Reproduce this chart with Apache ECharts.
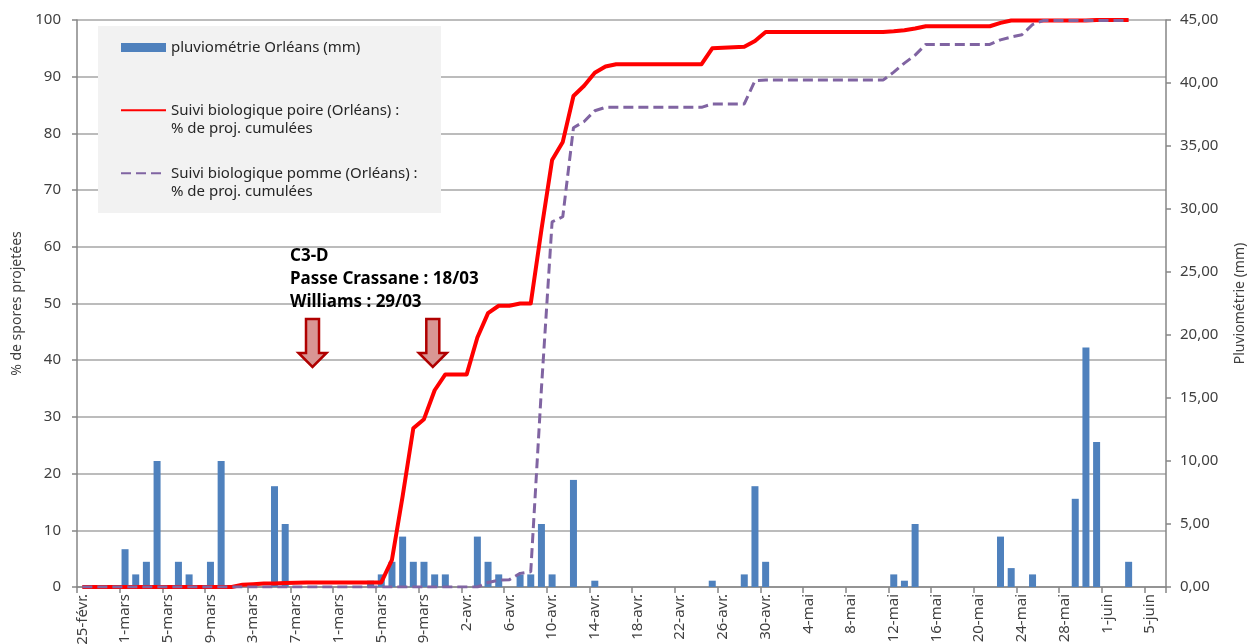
<!DOCTYPE html>
<html>
<head>
<meta charset="utf-8">
<script src="https://cdn.jsdelivr.net/npm/echarts@6.0.0/dist/echarts.min.js"></script>
<style>
html,body{margin:0;padding:0;background:#fff;}
#chart{width:1248px;height:644px;}
</style>
</head>
<body>
<div id="chart"></div>
<script>
// ---- Category labels (daily, 25-févr. -> 6-juin) ----
const monthNames = ['févr.', 'mars', 'avr.', 'mai', 'juin'];
const monthFirstDay = [25, 1, 1, 1, 1];
const monthLastDay = [28, 31, 30, 31, 6];
const categories = [];
for (let m = 0; m < monthNames.length; m++) {
  for (let d = monthFirstDay[m]; d <= monthLastDay[m]; d++) {
    categories.push(d + '-' + monthNames[m]);
  }
}

// ---- Series names ----
const rainName = 'pluviométrie Orléans (mm)';
const poireName = 'Suivi biologique poire (Orléans) :\n% de proj. cumulées';
const pommeName = 'Suivi biologique pomme (Orléans) :\n% de proj. cumulées';

// ---- Daily rainfall, mm (right axis) ----
const rain = [
  0, 0, 0, 0, 3.0, 1.0, 2.0, 10.0, 0, 2.0,        // 25-févr. .. 6-mars
  1.0, 0, 2.0, 10.0, 0, 0, 0, 0, 8.0, 5.0,        // 7-mars .. 16-mars
  0, 0, 0, 0, 0, 0, 0, 0.5, 1.0, 2.0,             // 17-mars .. 26-mars
  4.0, 2.0, 2.0, 1.0, 1.0, 0, 0, 4.0, 2.0, 1.0,   // 27-mars .. 5-avr.
  0, 1.0, 1.0, 5.0, 1.0, 0, 8.5, 0, 0.5, 0,       // 6-avr. .. 15-avr.
  0, 0, 0, 0, 0, 0, 0, 0, 0, 0.5,                 // 16-avr. .. 25-avr.
  0, 0, 1.0, 8.0, 2.0, 0, 0, 0, 0, 0,             // 26-avr. .. 5-mai
  0, 0, 0, 0, 0, 0, 1.0, 0.5, 5.0, 0,             // 6-mai .. 15-mai
  0, 0, 0, 0, 0, 0, 4.0, 1.5, 0, 1.0,             // 16-mai .. 25-mai
  0, 0, 0, 7.0, 19.0, 11.5, 0, 0, 2.0, 0,         // 26-mai .. 4-juin
  0, 0                                            // 5-juin .. 6-juin
];

// ---- Cumulated % projections, pear (left axis) ----
const poire = [
  0, 0, 0, 0, 0, 0, 0, 0, 0, 0,
  0, 0, 0, 0, 0, 0.4, 0.5, 0.6, 0.6, 0.7,
  0.75, 0.8, 0.8, 0.8, 0.8, 0.8, 0.8, 0.8, 0.8, 4.8,
  16, 28, 29.6, 34.7, 37.5, 37.5, 37.5, 44, 48.3, 49.6,
  49.6, 50, 50, 63, 75.3, 78.5, 86.6, 88.4, 90.7, 91.8,
  92.2, 92.2, 92.2, 92.2, 92.2, 92.2, 92.2, 92.2, 92.2, 95,
  95.1, 95.2, 95.3, 96.3, 97.9, 97.9, 97.9, 97.9, 97.9, 97.9,
  97.9, 97.9, 97.9, 97.9, 97.9, 97.9, 98.0, 98.2, 98.5, 98.9,
  98.9, 98.9, 98.9, 98.9, 98.9, 98.9, 99.5, 99.9, 99.9, 99.9,
  99.9, 99.9, 99.9, 99.9, 99.9, 100, 100, 100, 100, null,
  null, null
];

// ---- Cumulated % projections, apple (left axis) ----
const pomme = [
  0, 0, 0, 0, 0, 0, 0, 0, 0, 0,
  0, 0, 0, 0, 0, 0, 0, 0, 0, 0,
  0, 0, 0, 0, 0, 0, 0, 0, 0, 0,
  0, 0, 0, 0, 0, 0, 0, 0, 0.8, 1.2,
  1.3, 2.4, 2.7, 35, 64.4, 65.3, 81, 82.1, 84, 84.6,
  84.6, 84.6, 84.6, 84.6, 84.6, 84.6, 84.6, 84.6, 84.6, 85.2,
  85.2, 85.2, 85.2, 89.3, 89.4, 89.4, 89.4, 89.4, 89.4, 89.4,
  89.4, 89.4, 89.4, 89.4, 89.4, 89.4, 90.8, 92.4, 93.8, 95.7,
  95.7, 95.7, 95.7, 95.7, 95.7, 95.7, 96.5, 97.0, 97.4, 99.2,
  99.9, 99.9, 99.9, 99.9, 99.9, 99.9, 99.9, 99.9, 99.9, null,
  null, null
];

// ---- Axis ticks ----
const leftTicks = { min: 0, max: 100, interval: 10 };
const rightTicks = { min: 0, max: 45, interval: 5 };

const axisGrey = '#868686';
const txt = '#404040';
const fontFam = 'Noto Sans';

function arrow(cx) {
  return [[cx - 6.5, 319], [cx + 6.5, 319], [cx + 6.5, 353], [cx + 14, 353],
          [cx, 367], [cx - 14, 353], [cx - 6.5, 353]];
}

const chart = echarts.init(document.getElementById('chart'), null, { renderer: 'canvas' });
chart.setOption({
  animation: false,
  textStyle: { fontFamily: fontFam },
  grid: { left: 77, right: 82, top: 20, bottom: 57, containLabel: false, outerBoundsMode: 'none' },
  legend: {
    orient: 'vertical', left: 120, top: 20, padding: 0,
    itemWidth: 45, itemHeight: 9, itemGap: 8,
    selectedMode: false,
    data: [
      { name: rainName, icon: 'rect' },
      { name: poireName, itemStyle: { opacity: 0 } },
      { name: pommeName, itemStyle: { opacity: 0 } }
    ],
    formatter: function (name) { return '\n' + name + (name === rainName ? '\n' : ''); },
    textStyle: { fontSize: 15, lineHeight: 18.3, color: '#262626', fontFamily: fontFam }
  },
  xAxis: {
    type: 'category', data: categories, boundaryGap: true,
    axisLine: { lineStyle: { color: axisGrey, width: 1.5 } },
    axisTick: { show: true, interval: 3, length: 6, lineStyle: { color: axisGrey, width: 1.5 } },
    axisLabel: { interval: 3, rotate: 90, margin: 7, fontSize: 15, color: txt, fontFamily: fontFam },
    splitLine: { show: false }
  },
  yAxis: [
    {
      type: 'value', position: 'left', min: leftTicks.min, max: leftTicks.max, interval: leftTicks.interval,
      name: '% de spores projetées', nameLocation: 'middle', nameRotate: 90, nameGap: 50,
      nameTextStyle: { fontSize: 14, color: txt, fontFamily: fontFam },
      axisLine: { show: true, lineStyle: { color: axisGrey, width: 1.5 } },
      axisTick: { show: true, length: 5, lineStyle: { color: axisGrey, width: 1.5 } },
      axisLabel: { fontSize: 15, color: txt, margin: 16, fontFamily: fontFam },
      splitLine: { show: true, lineStyle: { color: '#a6a6a6', width: 1.5 } }
    },
    {
      type: 'value', position: 'right', min: rightTicks.min, max: rightTicks.max, interval: rightTicks.interval,
      name: 'Pluviométrie (mm)', nameLocation: 'middle', nameRotate: 90, nameGap: 67,
      nameTextStyle: { fontSize: 14, color: txt, fontFamily: fontFam },
      axisLine: { show: true, lineStyle: { color: axisGrey, width: 1.5 } },
      axisTick: { show: true, length: 5, lineStyle: { color: axisGrey, width: 1.5 } },
      axisLabel: {
        fontSize: 15, color: txt, margin: 14, fontFamily: fontFam,
        formatter: function (v) { return v.toFixed(2).replace('.', ','); }
      },
      splitLine: { show: false }
    }
  ],
  graphic: [
    { type: 'rect', z: 3, silent: true, shape: { x: 98, y: 26, width: 343, height: 187 }, style: { fill: '#f2f2f2' } },
    { type: 'text', z: 5, silent: true, style: {
        x: 290, y: 245, text: 'C3-D\nPasse Crassane : 18/03\nWilliams : 29/03',
        font: 'bold 17px "Noto Sans"', lineHeight: 23, fill: '#000', verticalAlign: 'top' } },
    { type: 'polygon', z: 5, silent: true, shape: { points: arrow(312.5) },
      style: { fill: '#d99694', stroke: '#b00000', lineWidth: 2.5 } },
    { type: 'polygon', z: 5, silent: true, shape: { points: arrow(432.8) },
      style: { fill: '#d99694', stroke: '#b00000', lineWidth: 2.5 } }
  ],
  series: [
    {
      name: rainName, type: 'bar', yAxisIndex: 1, data: rain, barWidth: 7,
      itemStyle: { color: '#4f81bd' }, z: 2
    },
    {
      name: poireName, type: 'line', yAxisIndex: 0, data: poire, symbol: 'none',
      lineStyle: { color: '#ff0000', width: 4, join: 'round' }, itemStyle: { color: '#ff0000' }, z: 3
    },
    {
      name: pommeName, type: 'line', yAxisIndex: 0, data: pomme, symbol: 'none',
      lineStyle: { color: '#8064a2', width: 3, type: [10, 5] }, itemStyle: { color: '#8064a2' }, z: 4
    }
  ]
});
</script>
</body>
</html>
